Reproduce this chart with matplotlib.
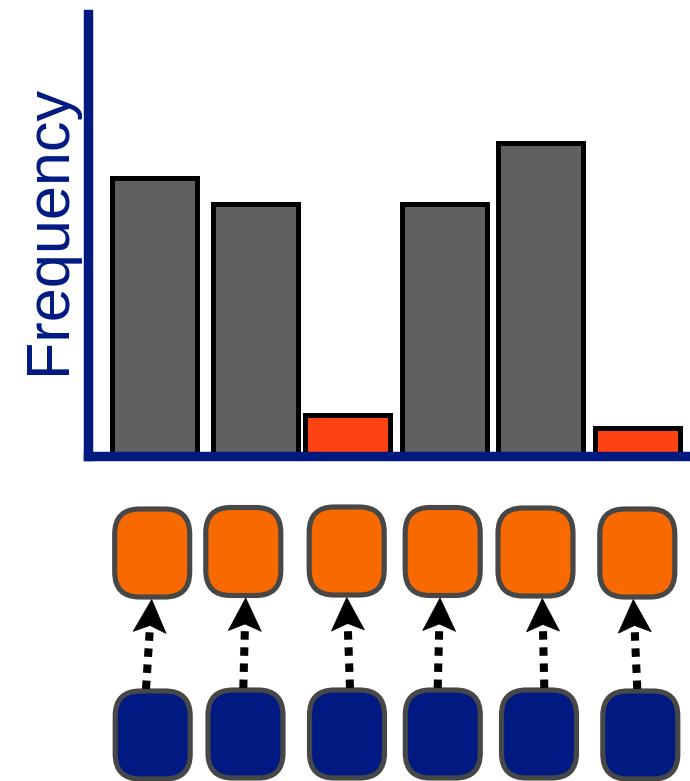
import numpy as np
import matplotlib
matplotlib.use("Agg")
import matplotlib.pyplot as plt
from matplotlib.patches import FancyBboxPatch, Polygon

plt.rcParams["font.family"] = ["Liberation Sans", "DejaVu Sans"]

# ---- histogram data -------------------------------------------------------
bar_pos = [0.0, 1.045, 2.0, 3.0, 3.99, 5.0]
frequency = [277.5, 251.5, 41.0, 251.5, 312.5, 27.5]
is_outlier = [False, False, True, False, False, True]

# ---- lower diagram layout (pixel units, y grows downward) -----------------
top_x = [152.2, 243.3, 346.7, 442.7, 535.5, 637.3]
top_y = [553.0, 551.5, 551.0, 551.5, 552.0, 553.0]
bottom_x = [152.7, 245.5, 347.0, 442.8, 539.0, 640.3]
bottom_y = [735.0, 734.0, 734.0, 734.0, 734.0, 735.0]
arrow_start_x = [146.0, 243.3, 350.0, 437.7, 544.3, 637.3]
arrow_tip_x = [151.7, 245.7, 346.7, 440.0, 542.3, 633.3]

W, H = 690, 781
AXIS_BLUE = "#001a82"
GRAY = "#606060"
RED = "#ff4214"
ORANGE = "#f86a00"
EDGE = "#474747"

fig = plt.figure(figsize=(W / 100, H / 100), dpi=100)

# ---- bar chart --------------------------------------------------------------
left, right, top, base = 87.5, 690.0, 14.5, 455.5
ax = fig.add_axes([left / W, (H - base) / H, (right - left) / W, (base - top) / H])
colors = [RED if o else GRAY for o in is_outlier]
ax.bar(bar_pos, frequency, width=0.88, color=colors, edgecolor="black",
       linewidth=3.6, zorder=1)
ax.set_xlim(-0.691, 5.54)
ax.set_ylim(0, base - top)
ax.set_xticks([])
ax.set_yticks([])
for side in ("top", "right"):
    ax.spines[side].set_visible(False)
for side in ("left", "bottom"):
    sp = ax.spines[side]
    sp.set_color(AXIS_BLUE)
    sp.set_linewidth(6.8)
    sp.set_capstyle("projecting")
    sp.set_zorder(2.5)
ax.set_ylabel("Frequency", fontsize=44, color=AXIS_BLUE)
ax.yaxis.set_label_coords(-0.0165, 0.513)

# ---- boxes and arrows -------------------------------------------------------
ov = fig.add_axes([0, 0, 1, 1], facecolor="none")
ov.set_xlim(0, W)
ov.set_ylim(H, 0)
ov.axis("off")

box_w, box_h, radius = 75.0, 88.0, 25.0


def rounded_box(cx, cy, face):
    ov.add_patch(FancyBboxPatch((cx - box_w / 2, cy - box_h / 2), box_w, box_h,
                                boxstyle=f"round,pad=0,rounding_size={radius}",
                                facecolor=face, edgecolor=EDGE, linewidth=3.7,
                                zorder=2))


for cx, cy in zip(top_x, top_y):
    rounded_box(cx, cy, ORANGE)
for cx, cy in zip(bottom_x, bottom_y):
    rounded_box(cx, cy, AXIS_BLUE)

head_len, head_half, notch = 33.0, 16.5, 7.0
for sx, tx, ty, by in zip(arrow_start_x, arrow_tip_x, top_y, bottom_y):
    start = np.array([sx, by - box_h / 2 - 2.0])
    tip = np.array([tx, ty + box_h / 2 + 2.5])
    d = tip - start
    d /= np.hypot(*d)
    n = np.array([-d[1], d[0]])
    back = tip - head_len * d
    line_end = tip - (head_len - notch - 2) * d
    ov.plot([start[0], line_end[0]], [start[1], line_end[1]], color="black",
            linewidth=5.8, linestyle=(0, (1.05, 0.95)), solid_capstyle="butt",
            dash_capstyle="butt", zorder=3)
    head = [tip, back + head_half * n, tip - (head_len - notch) * d,
            back - head_half * n]
    ov.add_patch(Polygon(head, closed=True, facecolor="black",
                         edgecolor="black", linewidth=0.5, zorder=4))

fig.savefig("out.png", dpi=100)
